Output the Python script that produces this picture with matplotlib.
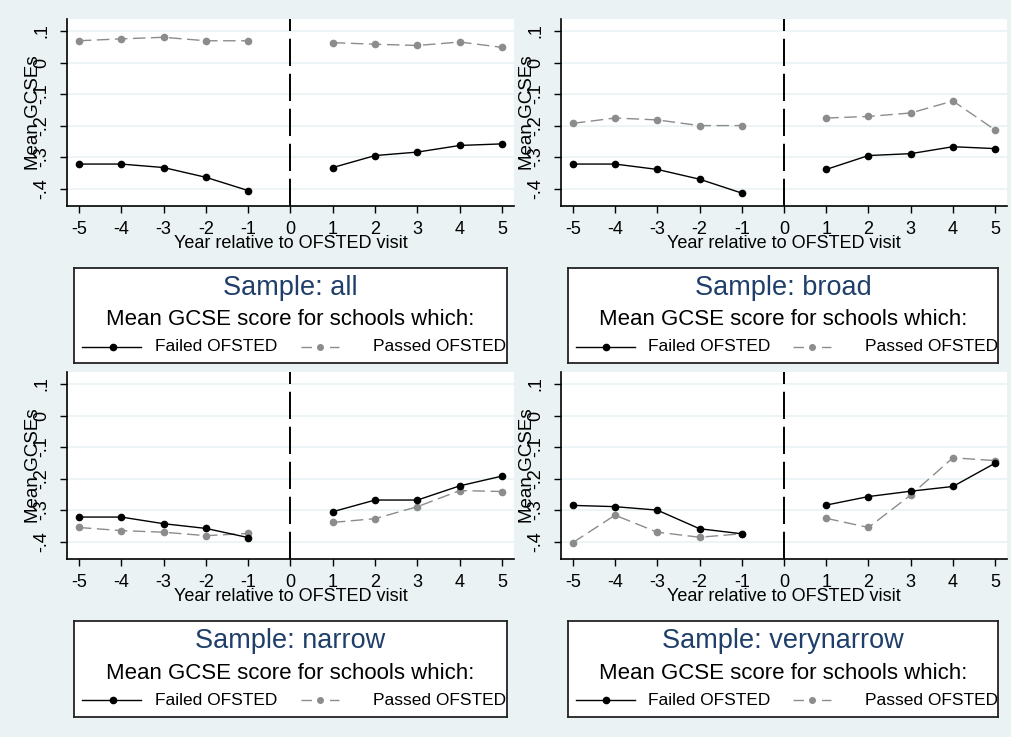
"""
Mean GCSE score around an OFSTED visit, failed vs passed schools, four samples.
"""
import numpy as np
import matplotlib
matplotlib.use('Agg')
import matplotlib.pyplot as plt
from matplotlib.lines import Line2D

plt.rcParams['font.family'] = ['Liberation Sans', 'DejaVu Sans']

years = [-5, -4, -3, -2, -1, 1, 2, 3, 4, 5]
ytick_vals = [0.1, 0.0, -0.1, -0.2, -0.3, -0.4]
ytick_labels = ['.1', '0', '-.1', '-.2', '-.3', '-.4']
samples = ['all', 'broad', 'narrow', 'verynarrow']

failed_all = [-0.322, -0.322, -0.333, -0.364, -0.406, -0.333, -0.295, -0.284, -0.263, -0.258]
passed_all = [0.069, 0.075, 0.080, 0.069, 0.069, 0.063, 0.058, 0.054, 0.065, 0.048]
failed_broad = [-0.322, -0.322, -0.339, -0.370, -0.414, -0.339, -0.295, -0.289, -0.267, -0.273]
passed_broad = [-0.193, -0.176, -0.182, -0.200, -0.200, -0.176, -0.171, -0.160, -0.122, -0.214]
failed_narrow = [-0.322, -0.322, -0.343, -0.358, -0.387, -0.305, -0.268, -0.268, -0.223, -0.192]
passed_narrow = [-0.355, -0.365, -0.370, -0.381, -0.374, -0.339, -0.327, -0.289, -0.238, -0.241]
failed_vnarrow = [-0.285, -0.289, -0.300, -0.359, -0.375, -0.284, -0.257, -0.240, -0.225, -0.151]
passed_vnarrow = [-0.403, -0.316, -0.370, -0.386, -0.375, -0.326, -0.355, -0.252, -0.134, -0.143]

failed = [failed_all, failed_broad, failed_narrow, failed_vnarrow]
passed = [passed_all, passed_broad, passed_narrow, passed_vnarrow]

BG = '#EAF2F3'
GREY = '#8C8C8C'
NAVY = '#1F3F6A'
W, H = 1012, 737


def px_rect(x0, y0, x1, y1):
    # pixel box (top-left origin) -> figure fraction [l, b, w, h]
    return [x0 / W, (H - y1) / H, (x1 - x0) / W, (y1 - y0) / H]


fig = plt.figure(figsize=(W / 100, H / 100), dpi=100, facecolor=BG)

plot_boxes = [(67, 19, 514, 206), (561, 19, 1007, 206),
              (67, 372, 514, 559), (561, 372, 1007, 559)]
legend_boxes = [(74, 268, 507, 363), (568, 268, 998, 363),
                (74, 621, 507, 717), (568, 621, 998, 717)]

x = np.array(years)
pre = x < 0
post = x > 0

for i in range(4):
    ax = fig.add_axes(px_rect(*plot_boxes[i]))
    ax.set_facecolor('white')
    f = np.array(failed[i])
    p = np.array(passed[i])

    for yv in ytick_vals:
        ax.axhline(yv, color=BG, lw=1.2, zorder=0)
    vl = ax.axvline(0, color='black', lw=1.4, zorder=1)
    vl.set_dashes((14, 4))

    for m in (pre, post):
        ax.plot(x[m], f[m], color='black', lw=1.0, marker='o', ms=4.5, zorder=3)
        ln, = ax.plot(x[m], p[m], color=GREY, lw=1.0, marker='o', ms=4.5, zorder=2)
        ln.set_dashes((9, 4))

    ax.set_xlim(-5.28, 5.28)
    ax.set_ylim(-0.455, 0.138)
    ax.set_xticks(range(-5, 6))
    ax.set_xticklabels([str(v) for v in range(-5, 6)], fontsize=13)
    ax.set_yticks(ytick_vals)
    ax.set_yticklabels(ytick_labels, fontsize=13, rotation=90, va='center')
    ax.tick_params(axis='both', length=5, width=1, color='black', direction='out')
    ax.tick_params(axis='y', pad=7)
    ax.tick_params(axis='x', pad=6)
    for s in ('top', 'right'):
        ax.spines[s].set_visible(False)
    for s in ('left', 'bottom'):
        ax.spines[s].set_linewidth(1.2)
    ax.text(-0.074, 0.5, 'Mean GCSEs', transform=ax.transAxes, rotation=90,
            ha='center', va='center', fontsize=13.5)
    ax.text(0.5, -0.198, 'Year relative to OFSTED visit', transform=ax.transAxes,
            ha='center', va='center', fontsize=13)

    # legend box drawn by hand, like the Stata one
    lg = fig.add_axes(px_rect(*legend_boxes[i]))
    lg.set_xlim(0, 1)
    lg.set_ylim(0, 1)
    lg.set_xticks([])
    lg.set_yticks([])
    lg.set_facecolor('white')
    for s in lg.spines.values():
        s.set_linewidth(1.3)
        s.set_color('#222222')
    lg.text(0.5, 0.79, f'Sample: {samples[i]}', ha='center', va='center',
            fontsize=19.5, color=NAVY)
    lg.text(0.5, 0.453, 'Mean GCSE score for schools which:', ha='center',
            va='center', fontsize=16)
    lg.add_line(Line2D([0.018, 0.155], [0.172, 0.172], color='black', lw=1.0))
    lg.plot([0.0895], [0.172], marker='o', color='black', ms=4.5)
    lg.text(0.187, 0.172, 'Failed OFSTED', ha='left', va='center', fontsize=12.5)
    pl = Line2D([0.524, 0.612], [0.172, 0.172], color=GREY, lw=1.0)
    pl.set_dashes((7.5, 13))
    lg.add_line(pl)
    lg.plot([0.568], [0.172], marker='o', color=GREY, ms=4)
    lg.text(0.69, 0.172, 'Passed OFSTED', ha='left', va='center', fontsize=12.5,
            clip_on=True)

fig.savefig('out.png', dpi=100, facecolor=BG)
